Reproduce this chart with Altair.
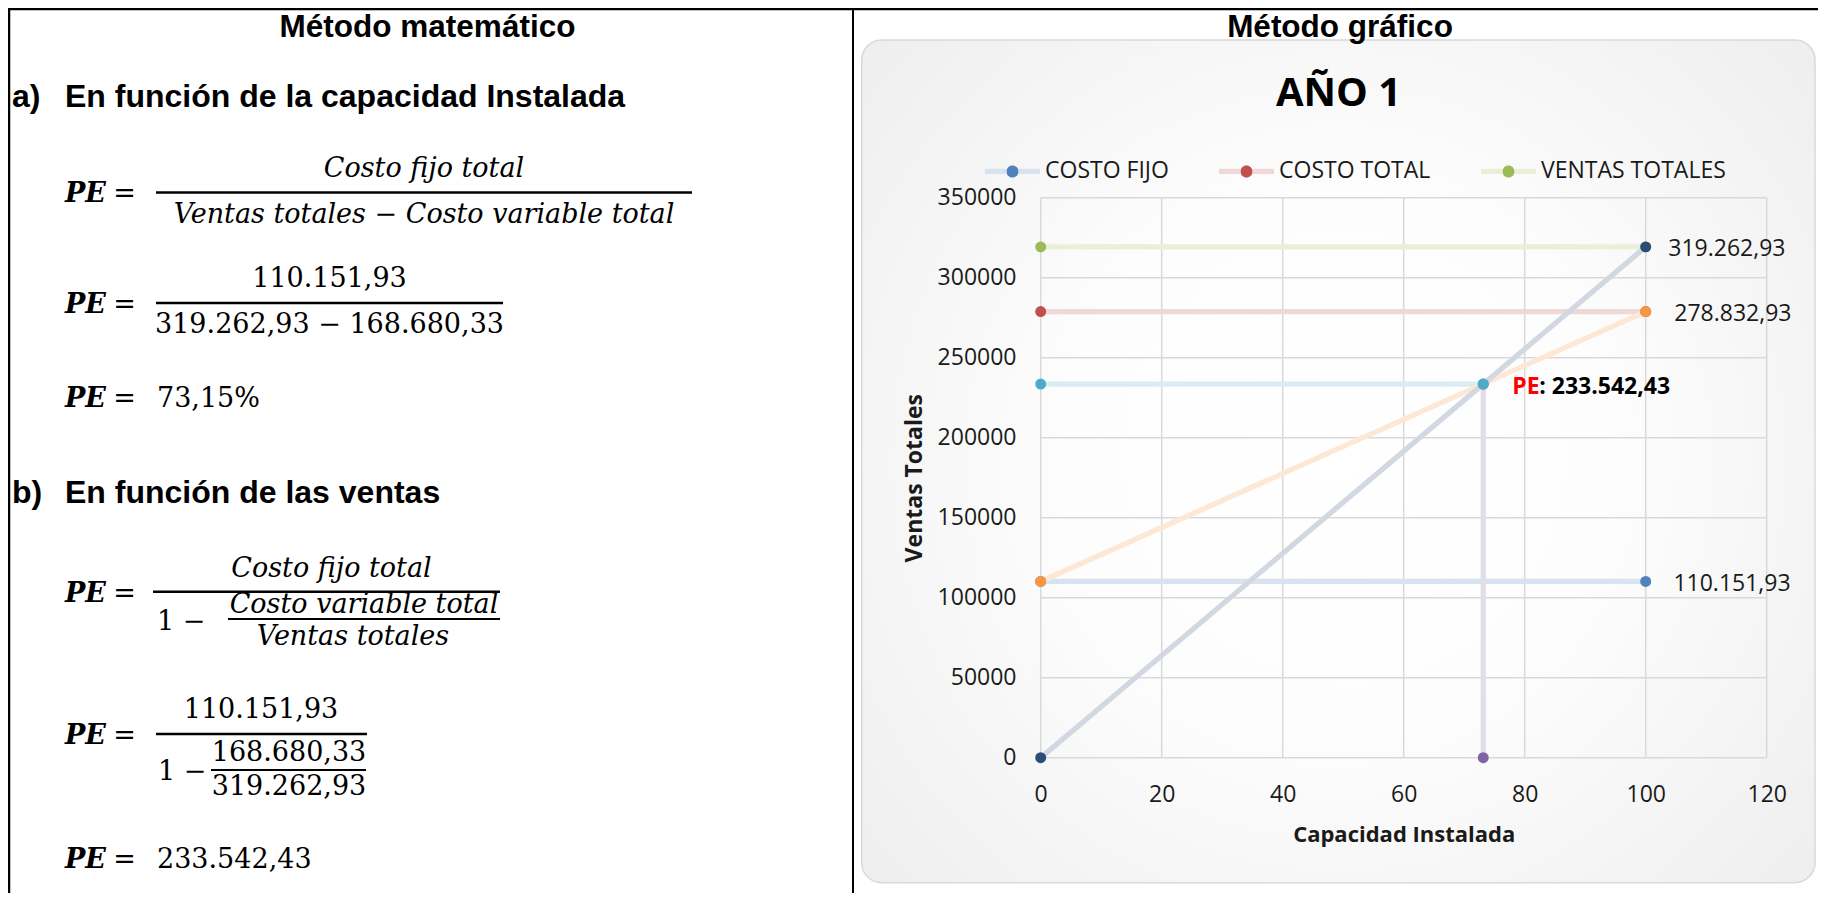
import altair as alt
import pandas as pd

# ----------------------------- data -----------------------------
capacidad = [0, 100]                      # % de capacidad instalada
costo_fijo_total = 110151.93
costo_variable_total = 168680.33
costo_total = 278832.93
ventas_totales = 319262.93
pe_porcentaje = 73.15
pe_ventas = 233542.43

series = ["COSTO FIJO", "COSTO TOTAL", "VENTAS TOTALES",
          "PE capacidad", "PE ventas", "Recta costo total", "Recta ventas"]
series_x = [[0, 100], [0, 100], [0, 100], [73.15, 73.15], [0, 73.15], [0, 100], [0, 100]]
series_y = [[110151.93, 110151.93], [278832.93, 278832.93], [319262.93, 319262.93],
            [0, 233542.43], [233542.43, 233542.43], [110151.93, 278832.93], [0, 319262.93]]
colores = ["#4F81BD", "#C0504D", "#9BBB59", "#8064A2", "#4BACC6", "#F79646", "#2C4D75"]
leyenda = series[:3]
x_ticks = [0, 20, 40, 60, 80, 100, 120]
y_ticks = [0, 50000, 100000, 150000, 200000, 250000, 300000, 350000]

# ----------------------------- helpers -----------------------------
def es(v):
    return f"{v:,.2f}".replace(",", "#").replace(".", ",").replace("#", ".")


def claro(hex_color, a=0.22):
    r, g, b = (int(hex_color[i:i + 2], 16) for i in (1, 3, 5))
    f = lambda c: round(255 - a * (255 - c))
    return "#{:02X}{:02X}{:02X}".format(f(r), f(g), f(b))


colores_linea = [claro(c) for c in colores]

rows = []
for i, (s, xs, ys) in enumerate(zip(series, series_x, series_y)):
    for j, (xv, yv) in enumerate(zip(xs, ys)):
        rows.append({"serie": s, "x": xv, "y": yv, "orden": i * 10 + j})
df = pd.DataFrame(rows)

# layout (page pixels of the plot area origin)
OX, OY = 1040.7, 197.7
W, H = 726, 560
TOTAL_W, TOTAL_H = 1810, 885
PAD = {"left": OX - 8, "top": OY - 8,
       "right": TOTAL_W - (OX - 8) - W, "bottom": TOTAL_H - (OY - 8) - H}

DOC = "Liberation Sans"
MATH = "DejaVu Serif"
CH = "Open Sans"
TXT = "#1a1a1a"
GRID = "#D9D9D9"

one = pd.DataFrame({"k": [0]})


def T(s, x, y, size, font, weight="normal", style="normal", align="left", color="#000000"):
    return alt.Chart(one).mark_text(
        text=s, font=font, fontSize=size, fontWeight=weight, fontStyle=style,
        align=align, baseline="alphabetic", color=color
    ).encode(x=alt.value(x - OX), y=alt.value(y - OY))


def HR(x1, x2, y, w=2.5, color="#000000"):
    return alt.Chart(one).mark_rule(color=color, strokeWidth=w).encode(
        x=alt.value(x1 - OX), x2=alt.value(x2 - OX), y=alt.value(y - OY))


def VR(x, y1, y2, w=2, color="#000000"):
    return alt.Chart(one).mark_rule(color=color, strokeWidth=w).encode(
        x=alt.value(x - OX), y=alt.value(y1 - OY), y2=alt.value(y2 - OY))


def PE(y):
    return [T("PE", 65, y, 27, MATH, "bold", "italic"),
            T("=", 124.5, y, 27, MATH, align="center")]


layers = []

# chart box (rounded, light radial gradient)
BOX_FILL = {"gradient": "radial", "x1": 0.5, "y1": 0.5, "r1": 0,
            "x2": 0.5, "y2": 0.5, "r2": 0.72,
            "stops": [{"offset": 0, "color": "#ffffff"},
                      {"offset": 0.4, "color": "#fdfdfd"},
                      {"offset": 1, "color": "#ececec"}]}
layers.append(alt.Chart(one).mark_rect(cornerRadius=20, fill=BOX_FILL, stroke=GRID, strokeWidth=1.5).encode(
    x=alt.value(861.7 - OX), x2=alt.value(1815 - OX), y=alt.value(40 - OY), y2=alt.value(882.7 - OY)))

# table borders
layers += [HR(8, 1827, 9, w=2.5), VR(9, 8, 905, w=2.5), VR(853, 8, 905, w=2)]

# ---------------- left column: método matemático ----------------
layers.append(T("Método matemático", 427.5, 37, 31.5, DOC, "bold", align="center"))
layers.append(T("a)", 12, 107, 32, DOC, "bold"))
layers.append(T("En función de la capacidad Instalada", 65, 107, 32, DOC, "bold"))

# formula 1
layers += PE(202)
layers.append(HR(156, 692, 192.5))
layers.append(T("Costo fijo total", 424, 177, 27, MATH, style="italic", align="center"))
layers.append(T("Ventas totales − Costo variable total", 424, 222.7, 27, MATH, style="italic", align="center"))

# formula 2
layers += PE(313)
layers.append(HR(156, 503, 303))
layers.append(T(es(costo_fijo_total), 329.5, 287.3, 27, MATH, align="center"))
layers.append(T(f"{es(ventas_totales)} − {es(costo_variable_total)}", 329.5, 333, 27, MATH, align="center"))

# result 1
layers += PE(406.7)
layers.append(T(es(pe_porcentaje) + "%", 157, 406.7, 27, MATH))

layers.append(T("b)", 12, 503, 32, DOC, "bold"))
layers.append(T("En función de las ventas", 65, 503, 32, DOC, "bold"))

# formula 3
layers += PE(601.5)
layers.append(HR(153, 500, 591.7))
layers.append(T("Costo fijo total", 331.5, 577, 27, MATH, style="italic", align="center"))
layers.append(T("1 −", 157, 630, 27, MATH))
layers.append(HR(228, 500, 619, w=2))
layers.append(T("Costo variable total", 364, 613, 27, MATH, style="italic", align="center"))
layers.append(T("Ventas totales", 353, 645, 27, MATH, style="italic", align="center"))

# formula 4
layers += PE(744)
layers.append(HR(156, 367, 734))
layers.append(T(es(costo_fijo_total), 261, 718, 27, MATH, align="center"))
layers.append(T("1 −", 158, 780, 27, MATH))
layers.append(HR(211, 366, 770, w=2))
layers.append(T(es(costo_variable_total), 289, 761, 27, MATH, align="center"))
layers.append(T(es(ventas_totales), 289, 795, 27, MATH, align="center"))

# result 2
layers += PE(868)
layers.append(T(es(pe_ventas), 157, 868, 27, MATH))

# ---------------- right column: método gráfico ----------------
layers.append(T("Método gráfico", 1340, 37, 31.5, DOC, "bold", align="center"))
layers.append(T("AÑO 1", 1338.6, 106, 40, CH, "bold", align="center"))

XS = alt.Scale(domain=[0, 120], nice=False, zero=False)
YS = alt.Scale(domain=[0, 350000], nice=False)
X_AX = alt.Axis(values=x_ticks, format="d", grid=False, domain=False, ticks=False, tickSize=0,
                labelFont=CH, labelFontSize=23, labelColor=TXT, labelPadding=25.8,
                labelFlush=False, labelOverlap=False,
                title="Capacidad Instalada", titleFont=CH, titleFontSize=22, titleFontWeight="bold",
                titleColor=TXT, titleY=84, titleBaseline="alphabetic", zindex=1)
Y_AX = alt.Axis(values=y_ticks, format="d", grid=False, domain=False, ticks=False, tickSize=0,
                labelFont=CH, labelFontSize=23, labelColor=TXT, labelPadding=24.7,
                labelFlush=False, labelOverlap=False,
                title="Ventas Totales", titleFont=CH, titleFontSize=23, titleFontWeight="bold",
                titleColor=TXT, titleX=-119, titleBaseline="alphabetic", zindex=1)

# gridlines from the tick lists
layers.append(alt.Chart(pd.DataFrame({"t": x_ticks})).mark_rule(color=GRID, strokeWidth=1.5).encode(
    x=alt.X("t:Q", scale=XS, axis=X_AX)))
layers.append(alt.Chart(pd.DataFrame({"t": y_ticks})).mark_rule(color=GRID, strokeWidth=1.5).encode(
    y=alt.Y("t:Q", scale=YS, axis=Y_AX)))

# legend symbol: light line with a dark dot (dash pattern skips the circle outline)
SYM = "M-1,0 L-0.22,0 A0.22,0.22 0 1,1 0.22,0 A0.22,0.22 0 1,1 -0.22,0 L1,0"
LEG = alt.Legend(title=None, values=leyenda, orient="none", legendX=-58.7, legendY=-57.2,
                 direction="horizontal", columns=3, symbolType=SYM, symbolSize=3025,
                 symbolStrokeWidth=5.3, symbolDash=[21.45, 50.11, 21.45, 300], symbolOpacity=1,
                 labelFont=CH, labelFontSize=23, labelColor=TXT, labelOffset=2,
                 columnPadding=39, padding=0, labelLimit=0)
STROKE_SCALE = alt.Scale(domain=series, range=colores_linea)
FILL_SCALE = alt.Scale(domain=series, range=colores)

lines = alt.Chart(df).mark_line(strokeWidth=5.3).encode(
    x=alt.X("x:Q", scale=XS, axis=X_AX),
    y=alt.Y("y:Q", scale=YS, axis=Y_AX),
    stroke=alt.Stroke("serie:N", scale=STROKE_SCALE, legend=LEG),
    order="orden:Q")
points = alt.Chart(df).mark_point(filled=True, size=120, opacity=1, strokeWidth=0, shape="circle").encode(
    x=alt.X("x:Q", scale=XS, axis=X_AX),
    y=alt.Y("y:Q", scale=YS, axis=Y_AX),
    fill=alt.Fill("serie:N", scale=FILL_SCALE, legend=LEG),
    stroke=alt.Stroke("serie:N", scale=STROKE_SCALE, legend=LEG))
layers += [lines, points]


def etiqueta(xv, yv, texto, dx, weight="normal", color=TXT):
    d = pd.DataFrame({"x": [xv], "y": [yv], "t": [texto]})
    return alt.Chart(d).mark_text(align="left", baseline="alphabetic", dx=dx, dy=9.5, font=CH,
                                  fontSize=23, fontWeight=weight, color=color).encode(
        x=alt.X("x:Q", scale=XS, axis=X_AX), y=alt.Y("y:Q", scale=YS, axis=Y_AX), text="t:N")


layers.append(etiqueta(capacidad[1], ventas_totales, es(ventas_totales), 22.6))
layers.append(etiqueta(capacidad[1], costo_total, es(costo_total), 28.6))
layers.append(etiqueta(capacidad[1], costo_fijo_total, es(costo_fijo_total), 27.7))
layers.append(etiqueta(pe_porcentaje, pe_ventas, "PE", 29, "bold", "#FF0000"))
layers.append(etiqueta(pe_porcentaje, pe_ventas, ": " + es(pe_ventas), 56, "bold", "#000000"))

chart = alt.layer(*layers).properties(
    width=W, height=H, padding=PAD,
    autosize=alt.AutoSizeParams(type="none"), background="white"
).configure_view(stroke=None)

chart.save("out.html", embed_options={"renderer": "svg", "actions": False})
